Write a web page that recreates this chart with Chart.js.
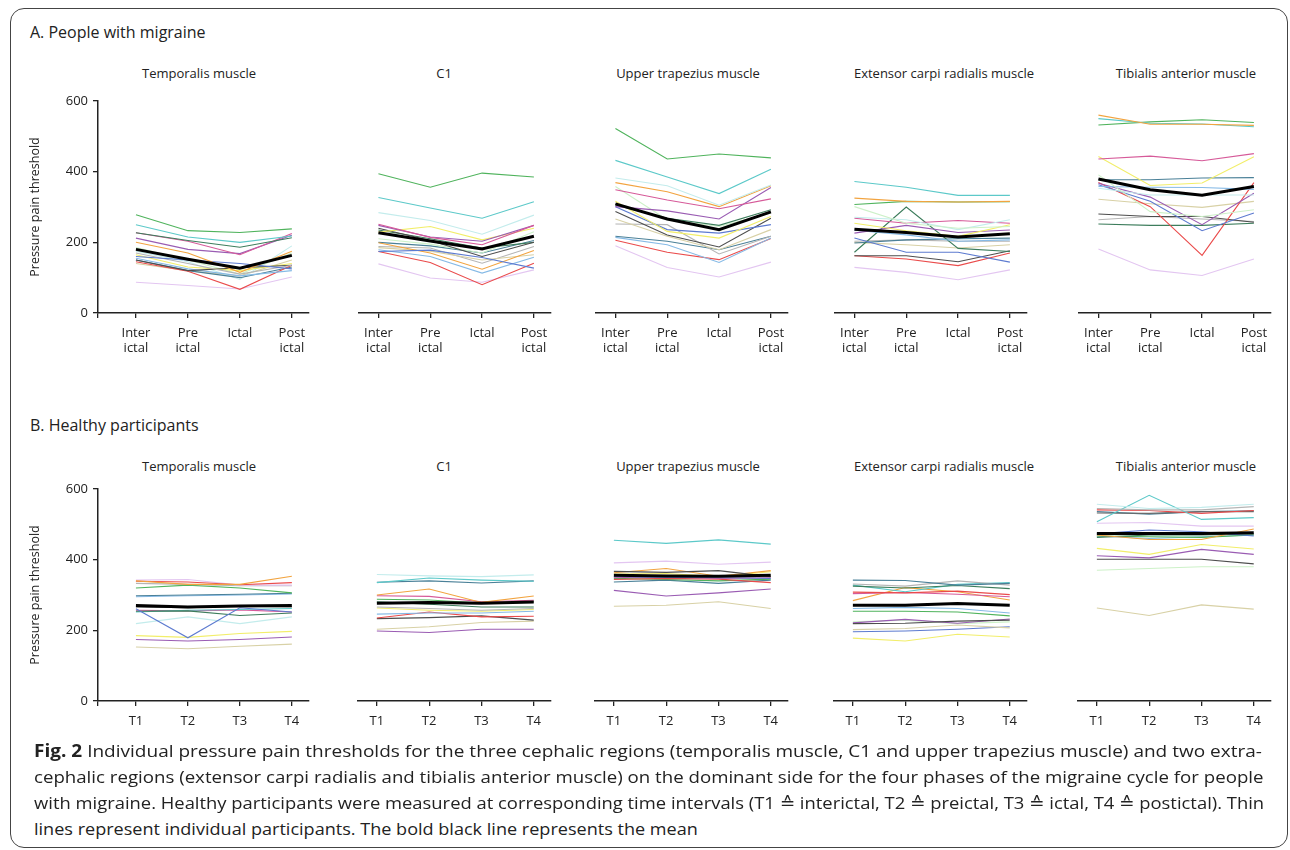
<!DOCTYPE html>
<html><head><meta charset="utf-8">
<script src="https://cdn.jsdelivr.net/npm/chart.js@4.4.1/dist/chart.umd.min.js"></script>
<style>
body{margin:0;background:#fff;width:1290px;height:850px;overflow:hidden;position:relative;font-family:"Open Sans",sans-serif;color:#222}
.frame{position:absolute;left:10px;top:8px;width:1278px;height:840px;border:1.5px solid #444;border-radius:14px;box-sizing:border-box}
.sec{position:absolute;left:30px;font-size:16px;line-height:20px;white-space:nowrap}
.ptitle{position:absolute;font-size:13px;line-height:16px;white-space:nowrap;transform:translateX(-50%)}
.pc{position:absolute}
.cap{position:absolute;left:34px;font-size:17px;line-height:24px;white-space:nowrap;transform-origin:0 50%;font-family:"Open Sans","DejaVu Sans",sans-serif}
</style>
</head><body>
<div class="frame"></div>
<div class="sec" style="top:22px">A. People with migraine</div>
<div class="sec" style="top:415px">B. Healthy participants</div>
<div id="titles"></div>
<div id="charts"></div>
<div class="cap" style="top:739px"><b>Fig. 2</b> Individual pressure pain thresholds for the three cephalic regions (temporalis muscle, C1 and upper trapezius muscle) and two extra-</div>
<div class="cap" style="top:765px">cephalic regions (extensor carpi radialis and tibialis anterior muscle) on the dominant side for the four phases of the migraine cycle for people</div>
<div class="cap" style="top:791px">with migraine. Healthy participants were measured at corresponding time intervals (T1 ≙ interictal, T2 ≙ preictal, T3 ≙ ictal, T4 ≙ postictal). Thin</div>
<div class="cap" style="top:817px">lines represent individual participants. The bold black line represents the mean</div>
<script>
// ---------- DATA ----------
const migraineCategories = [['Inter','ictal'],['Pre','ictal'],['Ictal'],['Post','ictal']];
const healthyCategories = ['T1','T2','T3','T4'];
const yTickValues = [0,200,400,600];
const panelTitles = ['Temporalis muscle','C1','Upper trapezius muscle','Extensor carpi radialis muscle','Tibialis anterior muscle'];
const yAxisTitle = 'Pressure pain threshold';

const migTemporalis = {
  P1:[278,233,228,238], P2:[250,215,200,218], P8:[227,205,186,213], P6:[227,203,165,225],
  P7:[212,180,168,220], P4:[200,170,115,175], P9:[160,150,140,125], P13:[170,140,110,135],
  P14:[150,120,128,135], P5:[165,130,120,140], P10:[155,125,105,120], P11:[145,118,67,135],
  P17:[150,120,100,130], P3:[175,145,95,190], P12:[87,78,68,102], P15:[140,120,105,150],
  P16:[185,150,110,170], mean:[180,152,127,163]
};
const migC1 = {
  P1:[394,356,396,385], P2:[327,297,268,315], P3:[284,262,223,277], P6:[251,214,193,248],
  P7:[248,215,203,248], P5:[229,245,207,240], P14:[240,205,160,200], P8:[235,210,184,200],
  P9:[174,178,157,127], P4:[199,170,124,177], P15:[185,175,150,165], P13:[188,184,141,188],
  P10:[179,160,113,158], P11:[174,143,80,141], P12:[139,99,87,122], P16:[210,195,170,230],
  P17:[200,190,170,205], mean:[227,204,181,217]
};
const migTrapezius = {
  P1:[522,436,450,439], P2:[432,385,338,407], P3:[382,360,305,362], P4:[369,343,301,360],
  P6:[349,320,295,323], P7:[301,289,266,355], P8:[306,268,248,292], P5:[316,231,212,273],
  P9:[301,236,226,250], P14:[287,221,187,268], P15:[266,217,179,236], P13:[252,250,167,217],
  P17:[217,203,179,217], P10:[214,193,143,212], P11:[206,172,151,211], P12:[190,129,102,144],
  P16:[358,264,245,283], mean:[309,266,236,286]
};
const migExtensor = {
  P2:[372,356,333,333], P4:[325,316,314,316], P1:[307,316,314,315], P16:[301,254,240,245],
  P3:[271,264,236,264], P6:[268,254,262,254], P5:[254,233,217,250], P7:[226,248,228,235],
  P10:[234,221,203,207], P9:[212,172,172,144], P8:[172,300,183,174], P17:[198,207,210,212],
  P15:[200,193,184,193], P14:[162,162,145,176], P11:[162,153,134,170], P12:[129,115,94,122],
  P13:[203,207,203,203], mean:[237,228,215,224]
};
const migTibialis = {
  P4:[560,534,534,531], P2:[550,537,535,527], P1:[532,541,547,539], P6:[436,444,431,451],
  P5:[443,361,368,442], P16:[391,287,273,292], P17:[377,377,382,383], P10:[358,356,355,350],
  P3:[353,334,334,334], P7:[367,328,250,339], P9:[363,316,233,283], P11:[369,301,163,369],
  P15:[322,309,299,316], P14:[280,273,273,257], P13:[264,273,266,259], P8:[252,248,248,254],
  P12:[181,122,106,153], mean:[379,349,333,358]
};
const hltTemporalis = {
  P4:[340,330,330,353], P11:[339,337,329,335], P12:[342,344,328,328], P13:[333,330,326,326],
  P1:[320,328,320,306], P17:[298,300,302,305], P10:[295,298,300,303], P9:[261,179,264,252],
  P8:[254,255,242,249], P2:[252,257,259,262], P14:[266,264,268,266], P6:[257,255,258,252],
  P3:[219,238,219,238], P5:[185,180,191,197], P7:[174,170,174,181], P15:[153,148,155,161],
  mean:[270,266,269,270]
};
const hltC1 = {
  P3:[358,354,352,357], P2:[335,348,342,339], P17:[336,340,334,340], P4:[300,317,279,297],
  P6:[298,296,281,285], P1:[288,286,277,281], P8:[281,274,266,266], P13:[266,262,257,262],
  P5:[263,257,254,259], P10:[246,249,249,254], P11:[235,252,238,240], P14:[233,236,241,229],
  P15:[203,210,222,226], P7:[198,194,203,203], mean:[277,279,277,280]
};
const hltTrapezius = {
  P2:[455,446,456,444], P12:[391,396,387,393], P14:[367,364,369,352], P4:[363,375,353,369],
  P5:[359,361,352,366], P9:[352,350,349,347], P6:[349,352,347,349], P11:[344,347,345,335],
  P1:[347,344,340,345], P17:[337,342,333,342], P7:[313,297,306,317], P15:[268,271,281,262],
  mean:[356,354,353,356]
};
const hltExtensor = {
  P17:[342,341,328,333], P13:[331,325,340,328], P8:[325,320,327,318], P2:[328,309,330,335],
  P11:[308,306,311,301], P6:[304,307,302,295], P4:[284,321,309,286], P10:[262,265,262,249],
  P1:[254,254,252,241], P14:[219,220,226,229], P7:[221,231,220,232], P16:[224,229,219,224],
  P15:[202,205,215,207], P9:[196,198,203,210], P5:[178,170,189,181], mean:[271,271,276,271]
};
const hltTibialis = {
  P3:[557,545,548,557], P13:[545,541,541,550], P2:[507,582,514,519], P11:[541,539,531,539],
  P18:[532,531,536,536], P17:[536,529,536,538], P12:[503,505,495,495], P9:[473,484,479,467],
  P4:[470,457,457,487], P8:[463,470,470,473], P1:[467,465,463,470], P10:[467,460,465,470],
  P5:[432,415,443,430], P7:[411,405,429,415], P14:[401,401,401,388], P16:[370,375,380,380],
  P15:[263,242,272,260], mean:[474,474,474,476]
};

// ---------- STYLE ----------
const participantColors = {
  P1:'#4fb35c', P2:'#5cc9c9', P3:'#c3ecec', P4:'#f2a440', P5:'#f2ee6a', P6:'#d65a99',
  P7:'#9a5cb3', P8:'#3d7d5c', P9:'#5d7bd0', P10:'#86bae6', P11:'#ea4b4b', P12:'#e3c6f1',
  P13:'#b5b5b5', P14:'#4d4d4d', P15:'#d8d1a6', P16:'#cdf1c8', P17:'#4a8098', P18:'#6a6a6a',
  mean:'#000000'
};

const PAD_T = 14, AREA_H = 212, X_AXIS_H = 50, Y_AXIS_W = 78, PAD_R = 4;
const rows = [
  {cats:migraineCategories, areaTop:101, titleTop:65, sets:[migTemporalis,migC1,migTrapezius,migExtensor,migTibialis]},
  {cats:healthyCategories, areaTop:489, titleTop:458, sets:[hltTemporalis,hltC1,hltTrapezius,hltExtensor,hltTibialis]}
];
const colLayout = [
  {left:20, xmin:-0.73, xmax:3.33, areaW:211, first:true, titleX:199},
  {left:357, xmin:-0.38, xmax:3.33, areaW:194, first:false, titleX:444},
  {left:594, xmin:-0.38, xmax:3.33, areaW:194, first:false, titleX:688},
  {left:833, xmin:-0.38, xmax:3.33, areaW:194, first:false, titleX:944},
  {left:1077, xmin:-0.38, xmax:3.33, areaW:194, first:false, titleX:1186}
];
const ink = '#222';
const tickFont = {family:'"Open Sans", sans-serif', size:13, lineHeight:1.22};

const titlesDiv = document.getElementById('titles');
const chartsDiv = document.getElementById('charts');

rows.forEach((row, ri) => {
  colLayout.forEach((col, ci) => {
    const t = document.createElement('div');
    t.className = 'ptitle';
    t.style.left = col.titleX + 'px';
    t.style.top = row.titleTop + 'px';
    t.textContent = panelTitles[ci];
    titlesDiv.appendChild(t);

    const w = (col.first ? Y_AXIS_W : 0) + col.areaW + PAD_R;
    const h = PAD_T + AREA_H + X_AXIS_H;
    const wrap = document.createElement('div');
    wrap.className = 'pc';
    wrap.style.left = col.left + 'px';
    wrap.style.top = (row.areaTop - PAD_T) + 'px';
    wrap.style.width = w + 'px';
    wrap.style.height = h + 'px';
    const cv = document.createElement('canvas');
    cv.width = w; cv.height = h;
    cv.style.width = w + 'px'; cv.style.height = h + 'px';
    wrap.appendChild(cv);
    chartsDiv.appendChild(wrap);

    const set = row.sets[ci];
    const datasets = Object.keys(set).map(k => ({
      data: set[k].map((v, i) => ({x:i, y:v})),
      borderColor: participantColors[k],
      borderWidth: k === 'mean' ? 3 : 1.1,
      pointRadius: 0,
      tension: 0,
      fill: false,
      order: k === 'mean' ? 0 : 1
    }));

    new Chart(cv, {
      type:'line',
      data:{datasets},
      options:{
        responsive:false, animation:false, events:[],
        layout:{padding:{top:PAD_T, right:PAD_R, left:0, bottom:0}},
        plugins:{legend:{display:false}, tooltip:{enabled:false}},
        scales:{
          x:{
            type:'linear', min:col.xmin, max:col.xmax,
            afterBuildTicks: s => {
              const tk = row.cats.map((c, i) => ({value:i}));
              if (col.first) tk.unshift({value:col.xmin});
              s.ticks = tk;
            },
            afterFit: s => { s.height = X_AXIS_H; },
            ticks:{
              callback: v => (Number.isInteger(v) && v >= 0 && v < row.cats.length) ? row.cats[v] : '',
              font:tickFont, color:ink, padding:7, maxRotation:0, autoSkip:false
            },
            grid:{drawOnChartArea:false, drawTicks:true, tickLength:5, color:ink, lineWidth:1.3},
            border:{display:true, color:ink, width:1.5}
          },
          y:{
            display: col.first, min:0, max:600,
            afterBuildTicks: s => { s.ticks = yTickValues.map(v => ({value:v})); },
            afterFit: s => { s.width = col.first ? Y_AXIS_W : 0; },
            ticks:{font:tickFont, color:ink, padding:5},
            grid:{drawOnChartArea:false, drawTicks:true, tickLength:5, color:ink, lineWidth:1.3},
            border:{display:true, color:ink, width:1.5},
            title:{display:true, text:yAxisTitle, color:ink, font:{family:'"Open Sans", sans-serif', size:12.5}, padding:{top:8, bottom:0}}
          }
        }
      }
    });
  });
});

// fit caption lines to the reference widths
const caps = document.querySelectorAll('.cap');
const targets = [1228, 1230, 1230, 664];
caps.forEach((el, i) => {
  const w = el.scrollWidth;
  const s = targets[i] / w;
  el.style.transform = 'scaleX(' + s.toFixed(4) + ')';
});
</script>
</body></html>
